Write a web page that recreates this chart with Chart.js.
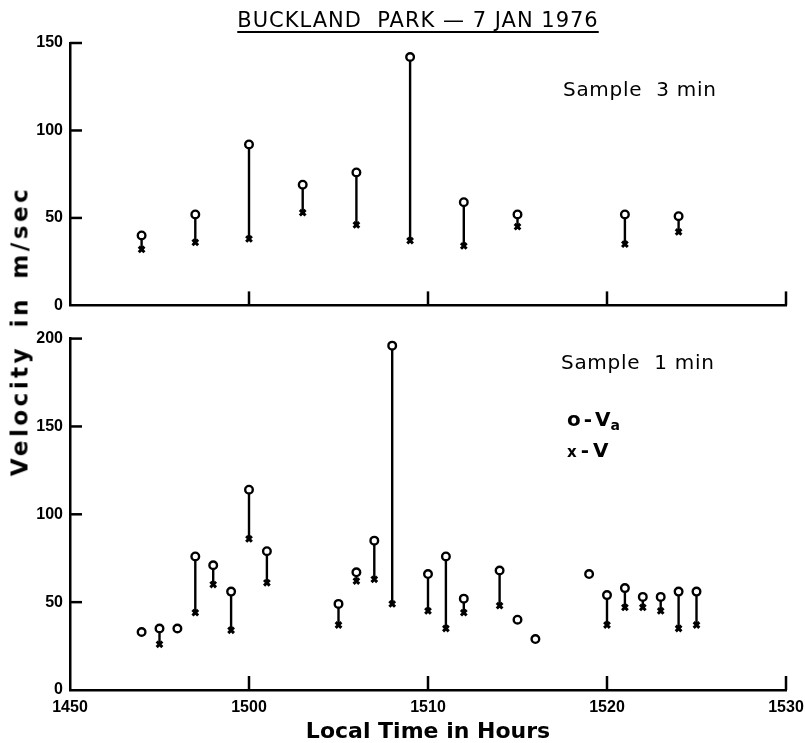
<!DOCTYPE html>
<html>
<head>
<meta charset="utf-8">
<script src="https://cdn.jsdelivr.net/npm/chart.js@4.4.1/dist/chart.umd.min.js"></script>
<style>
  body { margin: 0; background: #fff; }
  #wrap { position: relative; width: 805px; height: 743px; font-family: 'DejaVu Sans', sans-serif; color: #000; }
  canvas { position: absolute; left: 0; }
  .lbl { position: absolute; white-space: nowrap; line-height: 1; }
</style>
</head>
<body>
<div id="wrap">
  <canvas id="top-chart" width="805" height="322" style="top:0"></canvas>
  <canvas id="bottom-chart" width="805" height="421" style="top:322px"></canvas>

  <div class="lbl" style="left:418px; top:10px; transform:translateX(-50%); font-size:21px; letter-spacing:1px; text-decoration:underline; text-underline-offset:4px;">BUCKLAND&nbsp; PARK — 7 JAN 1976</div>
  <div class="lbl" style="left:20px; top:331px; transform:translate(-50%,-50%) rotate(-90deg); font-size:23px; font-weight:bold; letter-spacing:3.5px; word-spacing:6px;">Velocity in m/sec</div>
  <div class="lbl" style="left:563px; top:79px; font-size:20px; letter-spacing:0.7px;">Sample&nbsp; 3 min</div>
  <div class="lbl" style="left:561px; top:352px; font-size:20px; letter-spacing:0.7px;">Sample&nbsp; 1 min</div>
  <div class="lbl" style="left:567px; top:409px; font-size:20px; font-weight:bold; word-spacing:-4px;">o - V<span style="font-size:14px; position:relative; top:4px;">a</span></div>
  <div class="lbl" style="left:567px; top:440px; font-size:20px; font-weight:bold; word-spacing:-3px;"><span style="font-size:15px;">x</span> - V</div>
</div>

<script>
// sample 3 min
const topTimes = [1454, 1457, 1500, 1503, 1506, 1509, 1512, 1515, 1521, 1524];
const topVa    = [40, 52, 92, 69, 76, 142, 59, 52, 52, 51];
const topV     = [32, 36, 38, 53, 46, 37, 34, 45, 35, 42];

// sample 1 min
const botTimes = [1454, 1455, 1456, 1457, 1458, 1459, 1500, 1501, 1505, 1506, 1507, 1508, 1510,
                  1511, 1512, 1514, 1515, 1516, 1519, 1520, 1521, 1522, 1523, 1524, 1525];
const botVa    = [33, 35, 35, 76, 71, 56, 114, 79, 49, 67, 85, 196, 66,
                  76, 52, 68, 40, 29, 66, 54, 58, 53, 53, 56, 56];
const botV     = [null, 26, null, 44, 60, 34, 86, 61, 37, 62, 63, 49, 45,
                  35, 44, 48, null, null, null, 37, 47, 47, 45, 35, 37];

const timeTicks = [1450, 1500, 1510, 1520, 1530];

// clock time (hhmm) -> minutes after 1400
function toMin(t) {
    return Math.floor(t / 100) * 60 + (t % 100) - 14 * 60;
}
function toClock(m) {
    return (14 + Math.floor(m / 60)) * 100 + (m % 60);
}

// short tick marks pointing into the plot
const inwardTicks = {
    id: 'inwardTicks',
    afterDraw(chart) {
        const {ctx, chartArea, scales} = chart;
        ctx.save();
        ctx.strokeStyle = '#000';
        ctx.lineWidth = 2.5;
        scales.y.ticks.forEach(t => {
            if (t.value === scales.y.min) return;
            const py = scales.y.getPixelForValue(t.value);
            ctx.beginPath();
            ctx.moveTo(chartArea.left, py);
            ctx.lineTo(chartArea.left + 12, py);
            ctx.stroke();
        });
        scales.x.ticks.forEach(t => {
            if (t.value === scales.x.min) return;
            const px = scales.x.getPixelForValue(t.value);
            ctx.beginPath();
            ctx.moveTo(px, chartArea.bottom);
            ctx.lineTo(px, chartArea.bottom - 14);
            ctx.stroke();
        });
        ctx.restore();
    }
};

const tickFont = {family: "'Liberation Sans', sans-serif", weight: 'bold', size: 16};

function makePanel(canvas, times, va, v, yMax, opts) {
    const vaPoints = times.map((t, i) => ({x: toMin(t), y: va[i]}));
    const vPoints = [];
    const segs = [];
    times.forEach((t, i) => {
        if (v[i] == null) return;
        vPoints.push({x: toMin(t), y: v[i]});
        segs.push({x: toMin(t), y: v[i]}, {x: toMin(t), y: va[i]}, {x: toMin(t), y: null});
    });

    return new Chart(canvas.getContext('2d'), {
        type: 'scatter',
        data: {
            datasets: [
                {
                    label: 'Va', data: vaPoints, order: 1,
                    pointStyle: 'circle', pointRadius: 3.8, pointBorderWidth: 2.4,
                    pointBorderColor: '#000', pointBackgroundColor: '#fff'
                },
                {
                    label: 'V', data: vPoints, order: 2,
                    pointStyle: 'crossRot', pointRadius: 4, pointBorderWidth: 3,
                    pointBorderColor: '#000', pointBackgroundColor: '#000'
                },
                {
                    label: 'link', data: segs, order: 3, showLine: true, spanGaps: false,
                    borderColor: '#000', borderWidth: 2.4, pointRadius: 0
                }
            ]
        },
        options: {
            responsive: false,
            animation: false,
            layout: {padding: {top: opts.padTop, right: 19, left: 0, bottom: 0}},
            plugins: {legend: {display: false}, tooltip: {enabled: false}},
            scales: {
                x: {
                    type: 'linear',
                    min: toMin(timeTicks[0]),
                    max: toMin(timeTicks[timeTicks.length - 1]),
                    afterBuildTicks: s => { s.ticks = timeTicks.map(t => ({value: toMin(t)})); },
                    ticks: {
                        display: opts.showX,
                        callback: val => String(toClock(val)),
                        font: tickFont, color: '#000', padding: 8, maxRotation: 0, autoSkip: false
                    },
                    grid: {drawOnChartArea: false, drawTicks: false},
                    border: {display: true, color: '#000', width: 2.5},
                    title: {
                        display: opts.showX,
                        text: 'Local Time in Hours',
                        color: '#000',
                        font: {family: "'DejaVu Sans', sans-serif", weight: 'bold', size: 22, lineHeight: 1},
                        padding: {top: 0, bottom: 0}
                    },
                    afterFit: s => {
                        s.height = opts.xHeight;
                        s.paddingLeft = 0;
                        s.paddingRight = 0;
                    }
                },
                y: {
                    min: 0, max: yMax,
                    ticks: {stepSize: 50, font: tickFont, color: '#000', padding: 7},
                    grid: {drawOnChartArea: false, drawTicks: false},
                    border: {display: true, color: '#000', width: 2.5},
                    afterFit: s => { s.width = 70; }
                }
            }
        },
        plugins: [inwardTicks]
    });
}

makePanel(document.querySelector('#top-chart'), topTimes, topVa, topV, 150,
    {padTop: 43, xHeight: 9, showX: false});
makePanel(document.querySelector('#bottom-chart'), botTimes, botVa, botV, 200,
    {padTop: 12, xHeight: 53, showX: true});
</script>
</body>
</html>
